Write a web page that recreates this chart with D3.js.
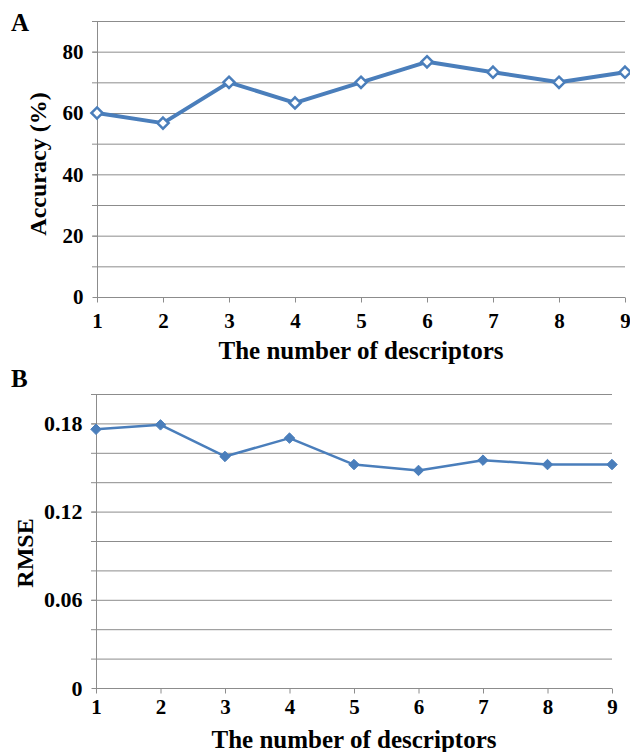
<!DOCTYPE html>
<html>
<head>
<meta charset="utf-8">
<script src="https://cdn.jsdelivr.net/npm/d3@7"></script>
<style>
  body { margin: 0; background: #fff; }
  text { font-family: "Liberation Serif", "Times New Roman", serif; font-weight: bold; fill: #000; }
</style>
</head>
<body>
<div id="chart"></div>
<script>
// number of descriptors (shared x categories)
var descriptors = [1, 2, 3, 4, 5, 6, 7, 8, 9];
// panel A: accuracy (%)
var accuracy = [60, 56.7, 70, 63.3, 70, 76.7, 73.3, 70, 73.3];
var accTicks = [0, 20, 40, 60, 80];
var accGrid = [10, 20, 30, 40, 50, 60, 70, 80, 90];
// panel B: RMSE
var rmse = [0.176, 0.179, 0.1575, 0.170, 0.152, 0.148, 0.155, 0.152, 0.152];
var rmseTicks = [0, 0.06, 0.12, 0.18];
var rmseGrid = [0.02, 0.04, 0.06, 0.08, 0.1, 0.12, 0.14, 0.16, 0.18, 0.2];

var blue = "#4a7ebb", grey = "#8c8c8c";

var svg = d3.select("#chart").append("svg")
    .attr("width", 630)
    .attr("height", 752);

//draw one panel
function panel(opt) {
    var x = d3.scaleLinear().domain([1, 9]).range([opt.left, opt.right]);
    var y = d3.scaleLinear().domain([0, opt.max]).range([opt.bottom, opt.top]);
    var g = svg.append("g");

    //gridlines
    g.selectAll("line.grid").data(opt.grid).enter().append("line")
        .attr("x1", opt.left - 5).attr("x2", opt.right)
        .attr("y1", function (d) { return y(d) + 0.5; })
        .attr("y2", function (d) { return y(d) + 0.5; })
        .attr("stroke", grey).attr("stroke-width", 1);

    //y axis
    var yAxis = g.append("g")
        .attr("transform", "translate(" + (opt.left + 0.5) + ",0)")
        .call(d3.axisLeft(y).tickValues(opt.ticks).tickSize(5).tickPadding(9)
            .tickFormat(function (d) { return d === 0 ? "0" : opt.fmt(d); }));
    yAxis.select(".domain").attr("stroke", grey).attr("d", "M0," + opt.bottom + "V" + opt.top);
    yAxis.selectAll(".tick line").attr("stroke", grey);
    yAxis.selectAll("text").style("font-size", opt.yFont + "px");

    //x axis
    var xAxis = g.append("g")
        .attr("transform", "translate(0," + (opt.bottom + 0.5) + ")")
        .call(d3.axisBottom(x).tickValues(descriptors).tickSize(5).tickPadding(opt.xPad)
            .tickFormat(d3.format("d")));
    xAxis.select(".domain").attr("stroke", grey).attr("d", "M" + opt.left + ",0H" + opt.right);
    xAxis.selectAll(".tick line").attr("stroke", grey);
    xAxis.selectAll("text").style("font-size", "21px");

    //line
    var line = d3.line()
        .x(function (d, i) { return x(descriptors[i]); })
        .y(function (d) { return y(d); });
    g.append("path").datum(opt.values)
        .attr("d", line)
        .attr("fill", "none")
        .attr("stroke", blue)
        .attr("stroke-width", opt.lw)
        .attr("stroke-linejoin", "round");

    //markers
    var sym = d3.symbol().type(d3.symbolDiamond2).size(opt.ms);
    g.selectAll("path.pt").data(opt.values).enter().append("path")
        .attr("class", "pt")
        .attr("d", sym)
        .attr("transform", function (d, i) { return "translate(" + x(descriptors[i]) + "," + y(d) + ")"; })
        .attr("fill", opt.hollow ? "#fff" : blue)
        .attr("stroke", blue)
        .attr("stroke-width", opt.hollow ? 2.5 : 1);

    //titles
    svg.append("text")
        .attr("x", (opt.left + opt.right) / 2)
        .attr("y", opt.xTitleY)
        .attr("text-anchor", "middle")
        .style("font-size", "25px")
        .text("The number of descriptors");
    svg.append("text")
        .attr("transform", "translate(" + opt.yTitleX + "," + opt.yTitleY + ") rotate(-90)")
        .attr("text-anchor", "middle")
        .style("font-size", "24px")
        .text(opt.yTitle);
    svg.append("text")
        .attr("x", 11).attr("y", opt.letterY)
        .style("font-size", "25px")
        .text(opt.letter);
}

panel({
    values: accuracy, ticks: accTicks, grid: accGrid, max: 90,
    left: 97, right: 625, top: 21, bottom: 297,
    fmt: d3.format("d"), yTitle: "Accuracy (%)", yTitleX: 46, yTitleY: 164,
    xTitleY: 359, xPad: 11, yFont: 21,
    letter: "A", letterY: 31, lw: 4, ms: 80, hollow: true
});

panel({
    values: rmse, ticks: rmseTicks, grid: rmseGrid, max: 0.2,
    left: 96, right: 612, top: 394, bottom: 688,
    fmt: d3.format(".2f"), yTitle: "RMSE", yTitleX: 33, yTitleY: 553,
    xTitleY: 748, xPad: 6, yFont: 22,
    letter: "B", letterY: 387, lw: 2.5, ms: 70, hollow: false
});
</script>
</body>
</html>
